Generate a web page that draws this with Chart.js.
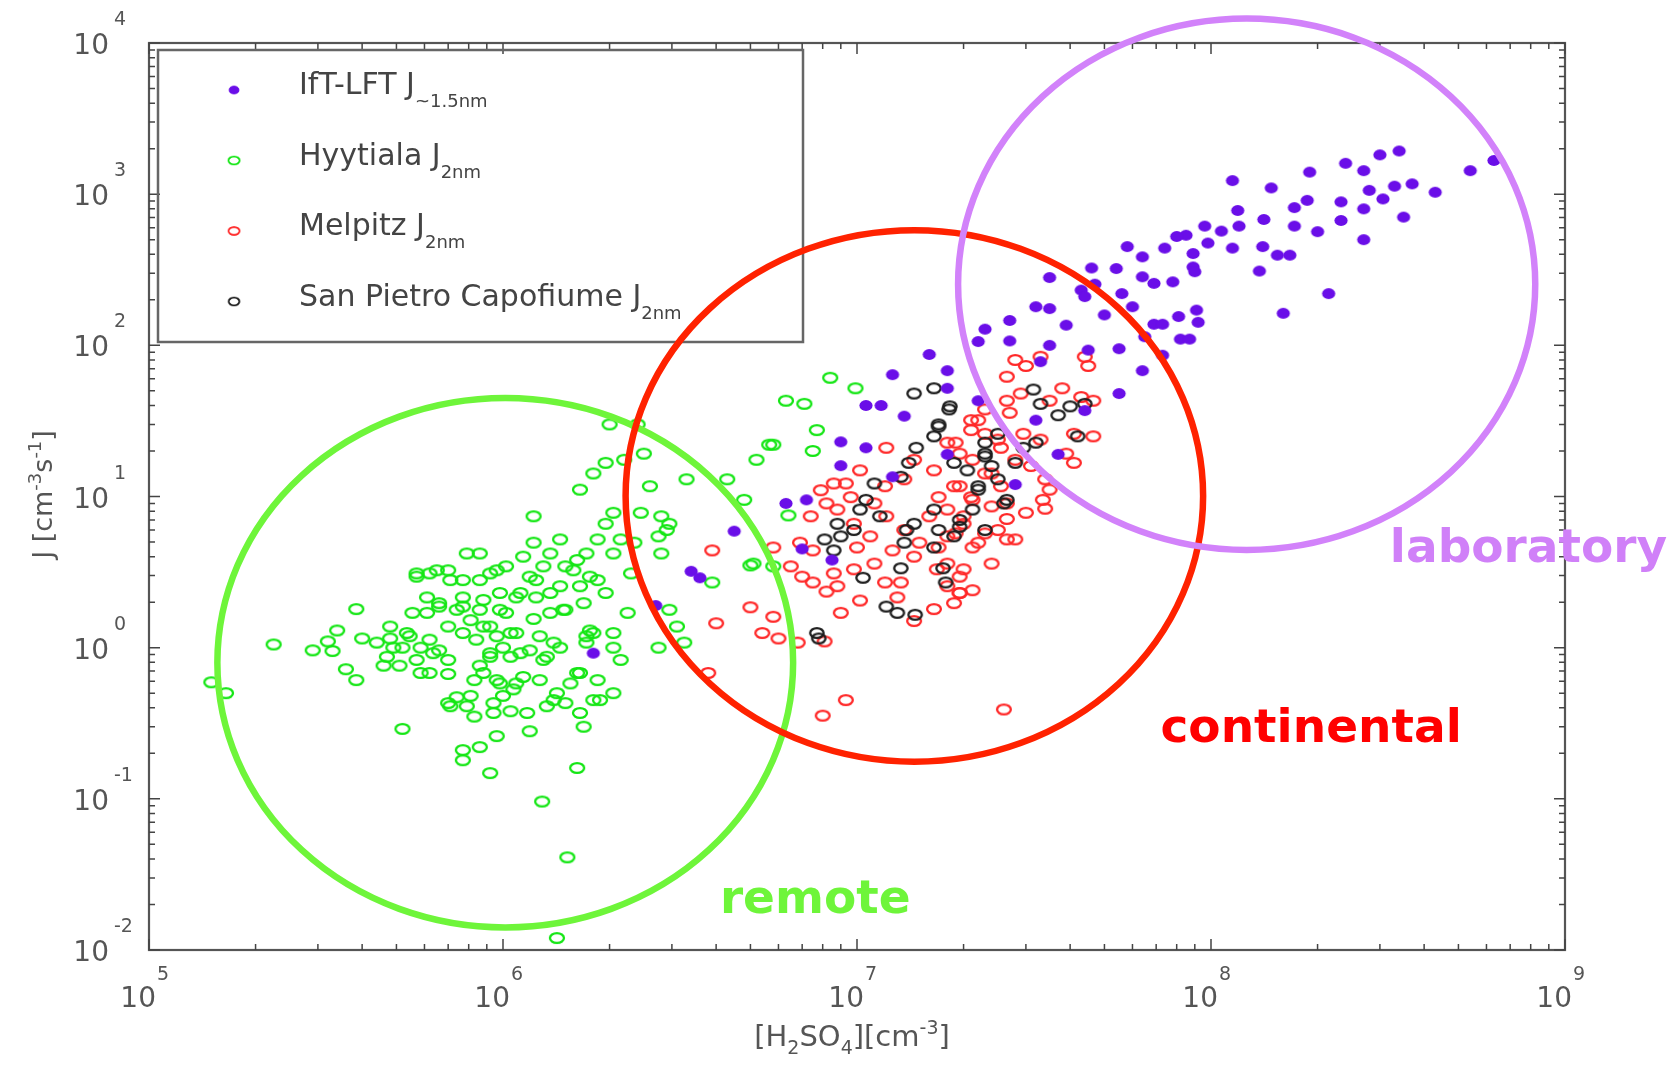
<!DOCTYPE html>
<html>
<head>
<meta charset="utf-8">
<title>Nucleation rate J vs H2SO4</title>
<script src="https://cdn.jsdelivr.net/npm/chart.js@4.4.0/dist/chart.umd.min.js"></script>
<style>
  body { margin: 0; background: #fff; }
  #wrap { width: 1669px; height: 1069px; }
</style>
</head>
<body>
<div id="wrap"><canvas id="myChart" width="1669" height="1069"></canvas></div>
<script>
// [H2SO4] (cm-3), J (cm-3 s-1)

// IfT-LFT J~1.5nm
const iftLft = [
  [6.3e8,1670],[5.4e8,1430],[3.4e8,1930],[3.0e8,1820],[2.4e8,1600],[2.7e8,1430],[1.9e8,1400],[1.15e8,1230],[1.48e8,1100],[3.7e8,1170],
  [3.3e8,1130],[4.3e8,1030],[2.8e8,1060],[3.06e8,930],[1.87e8,910],[1.72e8,815],[2.33e8,890],[2.7e8,800],[3.5e8,705],[1.19e8,780],
  [1.41e8,680],[2.33e8,670],[1.2e8,615],[1.72e8,615],[2.0e8,565],[9.6e7,615],[1.07e8,570],[8.5e7,535],[8.0e7,525],[2.7e8,500],
  [9.8e7,475],[5.8e7,450],[7.4e7,440],[8.9e7,405],[6.4e7,385],[1.15e8,440],[1.4e8,450],[1.54e8,395],[1.67e8,395],[8.9e7,330],
  [1.37e8,310],[4.6e7,325],[5.4e7,322],[3.5e7,281],[6.4e7,284],[6.9e7,257],[7.8e7,263],[9.0e7,307],[4.3e7,232],[4.4e7,210],
  [5.6e7,220],[4.7e7,254],[2.15e8,220],[3.2e7,180],[3.5e7,175],[6.0e7,180],[5.0e7,159],[1.6e8,163],[2.7e7,146],[3.9e7,136],
  [6.9e7,138],[7.3e7,138],[8.1e7,155],[9.1e7,171],[9.2e7,142],[2.7e7,107],[3.5e7,100],[5.5e7,95],[8.2e7,110],[8.7e7,110],
  [6.5e7,114],[4.5e7,93],[7.3e7,86],[6.4e7,68],[5.5e7,48],[3.3e7,78],[2.3e7,128],[2.2e7,106],[1.8e7,68],[1.8e7,52],
  [2.2e7,43],[3.2e7,32],[1.8e7,19],[2.8e7,12],[3.7e7,19],[4.4e7,37],[1.6e7,87],[1.26e7,64],[1.06e7,40],[1.17e7,40],
  [1.36e7,34],[9.0e6,23],[1.06e7,21],[1.26e7,13.5],[9.0e6,16],[6.3e6,9.0],[7.2e6,9.5],[4.5e6,5.9],[7.0e6,4.5],[8.5e6,3.8],
  [3.4e6,3.2],[3.6e6,2.9],[2.7e6,1.9],[1.8e6,0.92]
];

// Hyytiala J2nm
const hyytiala = [
  [1.5e5,0.59],[1.65e5,0.5],[2.25e5,1.05],[3.85e5,1.8],[3.4e5,1.3],[3.2e5,1.1],[2.9e5,0.96],[3.3e5,0.95],[3.6e5,0.72],[3.85e5,0.61],
  [4.0e5,1.15],[4.4e5,1.08],[4.8e5,1.15],[4.6e5,0.76],[5.2e5,1.0],[5.45e5,1.19],[5.85e5,1.0],[6.2e5,1.13],[6.6e5,0.96],[7.0e5,0.83],
  [6.2e5,0.68],[7.0e5,0.67],[5.7e5,0.83],[5.2e5,0.29],[5.7e5,3.1],[6.5e5,3.25],[7.1e5,2.8],[6.1e5,2.15],[6.6e5,1.97],[7.4e5,1.78],
  [8.1e5,1.52],[7.7e5,2.15],[8.6e5,2.8],[9.6e5,3.25],[8.8e5,2.07],[9.8e5,1.78],[1.09e6,2.15],[1.24e6,2.8],[1.36e6,2.3],[1.48e6,1.78],
  [1.58e6,3.25],[1.76e6,2.95],[8.8e5,1.38],[9.6e5,1.19],[1.05e6,1.25],[9.2e5,0.87],[1.05e6,0.87],[1.19e6,0.96],[1.3e6,0.83],[1.39e6,1.08],
  [1.27e6,1.19],[1.72e6,1.19],[1.76e6,1.3],[8.8e5,0.68],[9.8e5,0.58],[1.09e6,0.58],[1.0e6,0.48],[9.4e5,0.43],[8.1e5,0.48],[7.1e5,0.41],
  [8.3e5,0.35],[9.4e5,0.37],[1.05e6,0.38],[1.17e6,0.37],[1.19e6,0.28],[1.33e6,0.41],[1.42e6,0.5],[1.55e6,0.58],[1.65e6,0.68],[1.5e6,0.43],
  [1.65e6,0.37],[1.69e6,0.3],[1.8e6,0.45],[9.6e5,0.26],[7.7e5,0.21],[7.7e5,0.18],[8.6e5,0.22],[9.2e5,0.148],[1.62e6,0.16],[1.29e6,0.096],
  [1.52e6,0.041],[1.42e6,0.012],
  [6.3e6,43],[5.8e6,22],[5.2e6,17.5],[4.3e6,13],[3.3e6,13],[2.6e6,11.7],[2.5e6,19.2],[2.2e6,17.5],[1.95e6,16.7],[1.8e6,14.2],
  [1.65e6,11.1],[2.0e6,30],[2.4e6,30],[4.8e6,9.5],[5.0e6,3.5],[5.8e6,3.45],[3.9e6,2.7],[2.8e6,7.4],[2.95e6,6.6],[2.75e6,5.45],
  [2.8e6,4.2],[2.45e6,7.8],[2.35e6,4.95],[2.05e6,7.8],[1.95e6,6.6],[2.15e6,5.2],[2.05e6,4.2],[1.85e6,5.2],[1.72e6,4.2],[1.62e6,3.8],
  [1.5e6,3.45],[1.45e6,5.2],[1.36e6,4.2],[1.22e6,4.95],[1.14e6,4.0],[1.22e6,7.4],[1.19e6,2.95],[1.3e6,3.45],[1.02e6,3.45],[9.2e5,3.1],
  [8.6e5,4.2],[7.9e5,4.2],[7.7e5,2.8],[7.0e5,3.25],[6.2e5,3.1],[5.7e5,2.95],[9.8e5,2.3],[1.12e6,2.3],[1.24e6,2.15],[1.45e6,2.55],
  [1.65e6,2.55],[1.85e6,2.8],[1.95e6,2.3],[2.3e6,3.1],[2.25e6,1.7],[2.95e6,1.78],[3.1e6,1.38],[3.25e6,1.08],[2.75e6,1.0],[2.05e6,1.25],
  [1.8e6,1.25],[1.72e6,1.08],[2.05e6,1.0],[2.15e6,0.83],[1.45e6,1.0],[1.62e6,0.68],[1.85e6,0.61],[2.05e6,0.5],[1.88e6,0.45],[1.39e6,0.45],
  [1.27e6,0.61],[1.14e6,0.64],[1.07e6,0.53],[9.6e5,0.61],[8.6e5,0.76],[8.3e5,0.61],[7.4e5,0.47],[7.0e5,0.43],[7.9e5,0.41],[6.35e5,0.92],
  [5.35e5,1.25],[4.9e5,1.0],[4.8e5,1.38],[5.55e5,1.7],[6.1e5,1.7],[6.6e5,1.87],[7.7e5,1.87],[8.6e5,1.78],[9.2e5,1.38],[1.02e6,1.7],
  [1.09e6,1.25],[1.22e6,1.55],[1.36e6,1.7],[1.5e6,1.78],[1.69e6,1.97],[1.0e6,1.0],[1.12e6,0.92],[9.2e5,0.92],[7.0e5,1.38],[7.7e5,1.25],
  [8.4e5,1.13],[1.33e6,0.87],[5.85e5,0.68],[5.1e5,0.76],[4.7e5,0.87],
  [8.4e6,61],[9.9e6,52],[7.1e6,41],[7.7e6,27.5],[7.5e6,20],[5.65e6,22],[6.4e6,7.5],[5.1e6,3.6],[2.9e6,6.0]
];

// Melpitz J2nm
const melpitz = [
  [3.9e6,4.4],[5.0e6,1.85],[4.0e6,1.45],[5.4e6,1.25],[6.0e6,1.15],[5.8e6,1.6],[5.8e6,4.6],[6.5e6,3.45],[7.0e6,2.95],[7.5e6,2.7],
  [8.2e6,2.35],[8.8e6,2.55],[9.0e6,1.7],[8.1e6,1.1],[6.8e6,1.08],[3.8e6,0.68],[9.3e6,0.45],[8.0e6,0.355],[2.6e7,0.39],[1.02e7,2.05],
  [1.2e7,2.7],[1.33e7,2.7],[1.65e7,1.8],[1.95e7,2.3],[1.45e7,1.5],[1.3e7,2.15],[1.12e7,3.6],[9.8e6,3.3],[8.6e6,3.1],[7.5e6,4.4],
  [6.9e6,4.95],[7.4e6,7.4],[7.9e6,11],[8.2e6,9.0],[8.8e6,8.2],[9.6e6,9.9],[9.8e6,6.6],[1.09e7,5.45],[1.2e7,11.7],[1.21e7,7.4],
  [1.36e7,6.0],[1.45e7,4.0],[1.5e7,4.95],[1.6e7,7.4],[1.8e7,5.45],[2.0e7,6.6],[2.2e7,4.95],[2.5e7,6.0],[2.65e7,9.0],[2.55e7,11.7],
  [2.3e7,14.2],[2.1e7,9.9],[1.88e7,11.7],[1.7e7,9.9],[1.65e7,14.9],[1.8e7,22.7],[1.95e7,19.2],[2.1e7,27.5],[2.2e7,32],[2.55e7,21],
  [2.7e7,35.8],[2.65e7,62],[2.0e7,3.3],[2.12e7,2.4],[2.0e7,7.4],[1.68e7,3.3],[1.21e7,21],[1.02e7,14.9],[9.3e6,12.2],[8.6e6,12.2],
  [2.8e7,5.2],[2.4e7,3.6],[1.45e7,17.5],[1.36e7,13],[1.12e7,9.0],[1.0e7,4.6],[1.26e7,4.4],[1.7e7,4.6],[1.8e7,2.55],[1.88e7,1.97],
  [2.8e7,80],[3.3e7,84],[3.0e7,73],[4.5e7,73],[4.4e7,84],[3.8e7,52],[2.65e7,43],[2.3e7,37.7],[2.1e7,32],[2.9e7,48],
  [3.5e7,43],[4.3e7,45.5],[4.65e7,43],[4.65e7,25],[4.1e7,26],[3.9e7,19.2],[4.1e7,16.7],[3.3e7,23.8],[2.95e7,26],[2.5e7,23.8],
  [2.3e7,26],[1.9e7,22.7],[2.12e7,17.5],[2.4e7,14.2],[2.8e7,17.5],[3.1e7,15.9],[3.4e7,13],[3.5e7,11.1],[3.35e7,9.5],[3.4e7,8.3],
  [3.0e7,7.8],[2.65e7,7.1],[2.4e7,8.6],[2.12e7,9.5],[1.95e7,11.7],[2.3e7,5.7],[2.65e7,5.2],[1.9e7,5.7],[2.12e7,4.6],[1.8e7,3.6],
  [1.95e7,2.95],[1.95e7,2.3],[1.8e7,8.2]
];

// San Pietro Capofiume J2nm
const sanPietro = [
  [1.45e7,48],[1.65e7,52],[1.82e7,37.7],[1.7e7,29],[1.65e7,25],[1.47e7,21],[1.4e7,16.7],[1.33e7,13.5],[1.12e7,12.2],[1.06e7,9.5],
  [1.02e7,8.2],[8.8e6,6.6],[8.1e6,5.2],[8.6e6,4.4],[9.0e6,5.45],[9.8e6,6.0],[1.16e7,7.4],[1.38e7,6.0],[1.36e7,4.95],[1.45e7,6.6],
  [1.65e7,8.2],[1.7e7,6.0],[1.88e7,5.45],[1.95e7,7.0],[2.12e7,8.2],[2.2e7,11.7],[2.05e7,14.9],[1.88e7,16.7],[2.3e7,18.4],[2.3e7,22.7],
  [2.8e7,16.7],[2.6e7,9.0],[2.3e7,6.0],[1.65e7,4.6],[1.04e7,2.9],[1.33e7,3.35],[1.75e7,3.35],[1.78e7,2.7],[1.21e7,1.87],[1.3e7,1.7],
  [1.46e7,1.65],[7.7e6,1.25],[7.8e6,1.15],[3.3e7,41],[3.15e7,51],[3.7e7,34.5],[4.0e7,39.5],[4.4e7,41],[4.2e7,25],[3.2e7,22.7],
  [2.95e7,21],[2.5e7,26],[2.3e7,19.2],[2.4e7,15.9],[2.5e7,13],[2.2e7,11.1],[2.65e7,9.5],[1.95e7,6.3],[1.7e7,30],[1.83e7,39.5]
];

const seriesNames = ['IfT-LFT J', 'Hyytiala J', 'Melpitz J', 'San Pietro Capofiume J'];
const seriesSubs = ['~1.5nm', '2nm', '2nm', '2nm'];

const xTicks = [1e5, 1e6, 1e7, 1e8, 1e9];
const yTicks = [1e-2, 1e-1, 1e0, 1e1, 1e2, 1e3, 1e4];

// regimes drawn as ellipses: [xMin, xMax, yMin, yMax], label anchor [x, y]
const regionNames = ['remote', 'continental', 'laboratory'];
const regionBoxes = [[1.56e5, 6.6e6, 0.0141, 44.8], [2.22e6, 9.5e7, 0.176, 578], [1.93e7, 8.24e8, 4.43, 14500]];
const regionLabelAt = [[4.1e6, 0.0177], [7.2e7, 0.236], [3.2e8, 3.7]];
const regionColors = ['#6ef53a', '#ff2200', '#d282fa'];
const regionTextColors = ['#6ef53a', '#ff0000', '#d080f8'];

function makeMarker(color, filled, rx, ry) {
  const c = document.createElement('canvas');
  c.width = Math.ceil(rx * 2 + 8);
  c.height = Math.ceil(ry * 2 + 8);
  const g = c.getContext('2d');
  g.filter = 'blur(0.6px)';
  g.beginPath();
  g.ellipse(c.width / 2, c.height / 2, rx, ry, 0, 0, Math.PI * 2);
  if (filled) {
    g.fillStyle = color;
    g.fill();
  } else {
    g.strokeStyle = color;
    g.lineWidth = 2.3;
    g.stroke();
  }
  return c;
}

const markers = [
  makeMarker('#6a0ee8', true, 6.6, 5.4),
  makeMarker('#14e614', false, 7.0, 4.9),
  makeMarker('#ff2828', false, 6.9, 4.9),
  makeMarker('#1e1e1e', false, 6.7, 4.9)
];

function drawRich(c, parts, x, y, align) {
  let w = 0;
  for (const p of parts) {
    c.font = p[1] + 'px "DejaVu Sans"';
    w += c.measureText(p[0]).width;
  }
  let cx = align === 'center' ? x - w / 2 : (align === 'right' ? x - w : x);
  c.textAlign = 'left';
  for (const p of parts) {
    c.font = p[1] + 'px "DejaVu Sans"';
    c.fillText(p[0], cx, y + p[2]);
    cx += c.measureText(p[0]).width;
  }
}

const decor = {
  id: 'decor',
  afterDatasetsDraw(chart) {
    const c = chart.ctx;
    const a = chart.chartArea;
    const xs = chart.scales.x;
    const ys = chart.scales.y;
    c.save();

    // frame
    c.strokeStyle = '#555';
    c.lineWidth = 2.2;
    c.strokeRect(a.left, a.top, a.right - a.left, a.bottom - a.top);

    // inward ticks on all four sides
    c.lineWidth = 1.5;
    c.strokeStyle = '#444';
    c.beginPath();
    for (let i = 0; i < xTicks.length; i++) {
      for (let k = 1; k <= 9; k++) {
        if (k > 1 && i === xTicks.length - 1) break;
        const px = xs.getPixelForValue(xTicks[i] * k);
        const len = k === 1 ? 11 : 6;
        c.moveTo(px, a.bottom); c.lineTo(px, a.bottom - len);
        c.moveTo(px, a.top); c.lineTo(px, a.top + len);
      }
    }
    for (let i = 0; i < yTicks.length; i++) {
      for (let k = 1; k <= 9; k++) {
        if (k > 1 && i === yTicks.length - 1) break;
        const py = ys.getPixelForValue(yTicks[i] * k);
        const len = k === 1 ? 11 : 6;
        c.moveTo(a.left, py); c.lineTo(a.left + len, py);
        c.moveTo(a.right, py); c.lineTo(a.right - len, py);
      }
    }
    c.stroke();

    // tick labels 10^n
    c.fillStyle = '#555';
    c.textBaseline = 'alphabetic';
    xTicks.forEach(v => {
      const px = xs.getPixelForValue(v);
      const e = Math.round(Math.log10(v));
      c.font = '28px "DejaVu Sans"';
      c.textAlign = 'right';
      c.fillText('10', px + 7, a.bottom + 57);
      c.font = '19px "DejaVu Sans"';
      c.textAlign = 'left';
      c.fillText(String(e), px + 8, a.bottom + 30);
    });
    yTicks.forEach(v => {
      const py = ys.getPixelForValue(v);
      const e = Math.round(Math.log10(v));
      c.font = '28px "DejaVu Sans"';
      c.textAlign = 'right';
      c.fillText('10', a.left - 40, py + 11);
      c.font = '19px "DejaVu Sans"';
      c.textAlign = 'left';
      c.fillText(String(e), a.left - 35, py - 18);
    });

    // axis titles
    drawRich(c, [['[H', 29, 0], ['2', 19, 8], ['SO', 29, 0], ['4', 19, 8], ['][cm', 29, 0], ['-3', 19, -12], [']', 29, 0]],
      (a.left + a.right) / 2 - 5, a.bottom + 96, 'center');
    c.save();
    c.translate(a.left - 107, (a.top + a.bottom) / 2 - 2);
    c.rotate(-Math.PI / 2);
    drawRich(c, [['J [cm', 27, 0], ['-3', 18, -11], ['s', 27, 0], ['-1', 18, -11], [']', 27, 0]], 0, 10, 'center');
    c.restore();

    // legend box
    const lx = a.left + 9, ly = a.top + 7;
    c.strokeStyle = '#666';
    c.lineWidth = 2.5;
    c.strokeRect(lx, ly, 645, 292);
    c.fillStyle = '#444';
    seriesNames.forEach((name, i) => {
      const my = ly + 40 + i * 70.5;
      const m = markers[i];
      c.drawImage(m, lx + 76 - m.width * 0.4, my - m.height * 0.4, m.width * 0.8, m.height * 0.8);
      drawRich(c, [[name, 30, 0], [seriesSubs[i], 18, 13]], lx + 141, my + 4, 'left');
    });

    // regime ellipses and their labels
    regionBoxes.forEach((b, i) => {
      const x0 = xs.getPixelForValue(b[0]), x1 = xs.getPixelForValue(b[1]);
      const y0 = ys.getPixelForValue(b[3]), y1 = ys.getPixelForValue(b[2]);
      c.beginPath();
      c.ellipse((x0 + x1) / 2, (y0 + y1) / 2, (x1 - x0) / 2, (y1 - y0) / 2, 0, 0, Math.PI * 2);
      c.strokeStyle = regionColors[i];
      c.lineWidth = 6.5;
      c.stroke();
    });
    c.font = 'bold 47px "DejaVu Sans"';
    c.textAlign = 'left';
    regionNames.forEach((name, i) => {
      c.fillStyle = regionTextColors[i];
      c.fillText(name, xs.getPixelForValue(regionLabelAt[i][0]), ys.getPixelForValue(regionLabelAt[i][1]));
    });

    c.restore();
  }
};

const toPts = arr => arr.map(p => ({ x: p[0], y: p[1] }));

new Chart(document.getElementById('myChart'), {
  type: 'scatter',
  data: {
    datasets: [
      { label: seriesNames[0] + seriesSubs[0], data: toPts(iftLft), pointStyle: markers[0], pointRadius: 7, order: 0 },
      { label: seriesNames[1] + seriesSubs[1], data: toPts(hyytiala), pointStyle: markers[1], pointRadius: 7, order: 3 },
      { label: seriesNames[2] + seriesSubs[2], data: toPts(melpitz), pointStyle: markers[2], pointRadius: 7, order: 2 },
      { label: seriesNames[3] + seriesSubs[3], data: toPts(sanPietro), pointStyle: markers[3], pointRadius: 7, order: 1 }
    ]
  },
  options: {
    responsive: false,
    animation: false,
    layout: { padding: { left: 149, top: 43, right: 104, bottom: 119 } },
    plugins: {
      legend: { display: false },
      tooltip: { enabled: false }
    },
    scales: {
      x: { type: 'logarithmic', min: 1e5, max: 1e9, display: false },
      y: { type: 'logarithmic', min: 1e-2, max: 1e4, display: false }
    }
  },
  plugins: [decor]
});
</script>
</body>
</html>
